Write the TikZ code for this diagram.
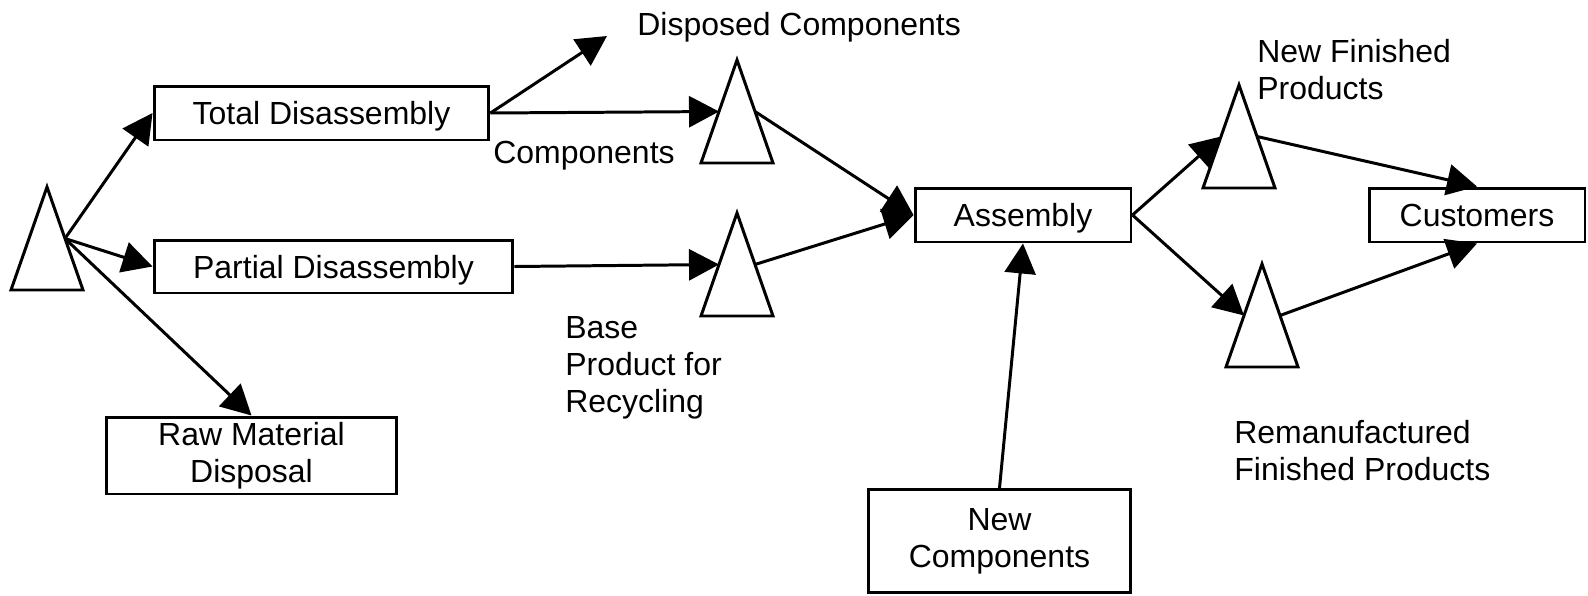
\documentclass[tikz,border=0pt]{standalone}
\usepackage{fontspec}
\setmainfont{Liberation Sans}
\usetikzlibrary{arrows.meta}
\usetikzlibrary{calc}

\tikzset{
    box/.style={draw, line width=1.7pt, inner sep=0pt, align=center},
    flow/.style={line width=1.7pt, -{Triangle[length=0.6cm, width=0.62cm]}},
    lbl/.style={inner sep=0pt, align=left, anchor=base west}
}

\begin{document}
\begin{tikzpicture}[x=0.02cm, y=-0.02cm, font=\fontsize{18.2}{21}\selectfont]
        \useasboundingbox (0,0) rectangle (1588,595);
        % inventory triangles
        \foreach \n/\x/\y in {src/47/187, comp/737/60, base/737/213, nfp/1239/85, rfp/1262/264}
        {
            \draw[line width=1.7pt] (\x,\y) -- ++(-36,103) -- ++(72,0) -- cycle;
            \coordinate (\n-in) at (\x-18,\y+51.5);
            \coordinate (\n-out) at (\x+18,\y+51.5);
        }
        % processes
        \node[box, text depth=0pt, minimum width=6.7cm, minimum height=1.08cm] (td) at (321.5,113) {Total Disassembly};
        \node[box, text depth=0pt, minimum width=7.18cm, minimum height=1.06cm] (pd) at (333.5,266.5) {Partial Disassembly};
        \node[box, minimum width=5.82cm, minimum height=1.54cm] (rm) at (251.5,455.5) {Raw Material\\Disposal};
        \node[box, text depth=0pt, minimum width=4.32cm, minimum height=1.08cm] (asm) at (1023,215) {Assembly};
        \node[box, minimum width=4.32cm, minimum height=1.08cm] (cu) at (1477,215) {Customers};
        \node[box, minimum width=5.26cm, minimum height=2.06cm] (nc) at (999.5,541) {New\\Components};
        \coordinate (dc) at (607,36);
        % flows
        \draw[flow] (src-out) -- (td.west);
        \draw[flow] (src-out) -- (pd.west);
        \draw[flow] (src-out) -- (rm.north);
        \draw[flow] (td.east) -- (dc);
        \draw[flow] (td.east) -- (comp-in);
        \draw[flow] (pd.east) -- (base-in);
        \draw[flow] (comp-out) -- (asm.west);
        \draw[flow] (base-out) -- (asm.west);
        \draw[flow] (asm.east) -- (nfp-in);
        \draw[flow] (asm.east) -- (rfp-in);
        \draw[flow] (nfp-out) -- (cu.north);
        \draw[flow] (rfp-out) -- (cu.south);
        \draw[flow] (nc.north) -- (asm.south);
        % labels (base = last line)
        \node[lbl] (dclbl) at (637,35) {Disposed Components};
        \node[lbl] (complbl) at (493,163) {Components};
        \node[lbl] (bplbl) at (565,412) {Base\\Product for\\Recycling};
        \node[lbl] (nfplbl) at (1257,99) {New Finished\\Products};
        \node[lbl] (rfplbl) at (1234,480) {Remanufactured\\Finished Products};
\end{tikzpicture}
\end{document}
